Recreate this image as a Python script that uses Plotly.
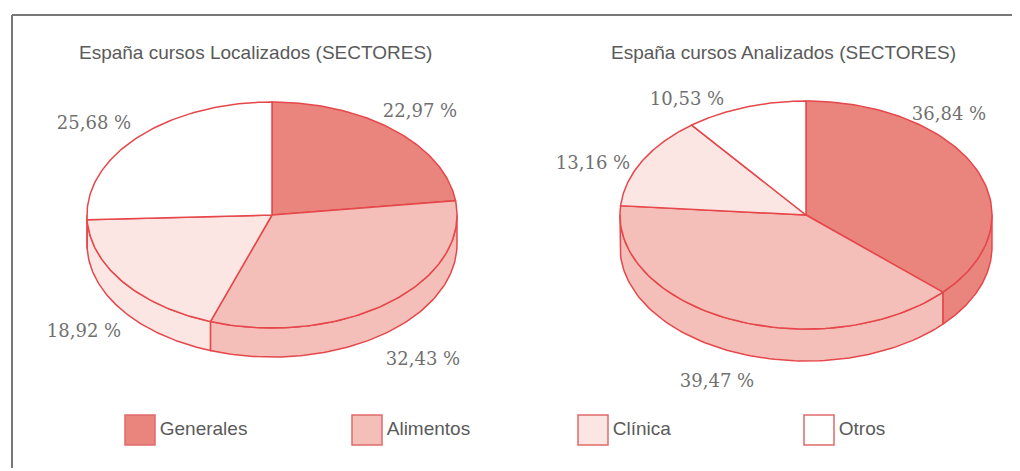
import numpy as np
import plotly.graph_objects as go

# data
categories = ["Generales", "Alimentos", "Clínica", "Otros"]
localizados = [22.97, 32.43, 18.92, 25.68]
analizados = [36.84, 39.47, 13.16, 10.53]
titles = ["España cursos Localizados (SECTORES)", "España cursos Analizados (SECTORES)"]

# styles
COLORS = ["#EA857E", "#F5BFB9", "#FCE6E3", "#FFFFFF"]
EDGE = "#E5474B"
LABEL_FONT = dict(family="DejaVu Serif", size=18, color="#707070")
SANS_FONT = dict(family="Liberation Sans", size=19, color="#5a5a5a")

# page body has an 8px margin, so the figure is drawn 8px in
OFF = 8

# pie geometry (screen pixels, y pointing down)
PIES = [
    dict(cx=272, cy=215, rx=185, ry=113, depth=29, title_x=255,
         label_pos=[(420, 112), (423, 360), (84, 332), (94, 124)]),
    dict(cx=806, cy=215, rx=186, ry=114, depth=32, title_x=783,
         label_pos=[(949, 115), (717, 382), (593, 164), (687, 100)]),
]


def arc(p, t0, t1, n=90, dy=0):
    """Points on the pie ellipse, angles in degrees clockwise from 12 o'clock."""
    th = np.radians(np.linspace(t0, t1, n))
    return p["cx"] + p["rx"] * np.sin(th), p["cy"] - p["ry"] * np.cos(th) + dy


def pie3d_traces(p, values):
    total = sum(values)
    bounds = np.concatenate([[0], np.cumsum(values) / total * 360])
    sides, tops = [], []
    for i, v in enumerate(values):
        t0, t1 = bounds[i], bounds[i + 1]
        # visible part of the wall: lower half of the ellipse
        a, b = max(t0, 90), min(t1, 270)
        if a < b:
            x1, y1 = arc(p, a, b)
            x2, y2 = arc(p, b, a, dy=p["depth"])
            sides.append(go.Scatter(
                x=np.concatenate([x1, x2, x1[:1]]), y=np.concatenate([y1, y2, y1[:1]]),
                fill="toself", mode="lines", fillcolor=COLORS[i],
                line=dict(color=EDGE, width=1.5), hoverinfo="skip", showlegend=False,
            ))
        x, y = arc(p, t0, t1)
        tops.append(go.Scatter(
            x=np.concatenate([[p["cx"]], x, [p["cx"]]]), y=np.concatenate([[p["cy"]], y, [p["cy"]]]),
            fill="toself", mode="lines", fillcolor=COLORS[i],
            line=dict(color=EDGE, width=1.5), name=categories[i],
            text=f"{categories[i]}: {v:.2f} %", hoverinfo="text", showlegend=False,
        ))
    lx, ly = zip(*p["label_pos"])
    labels = go.Scatter(
        x=lx, y=ly, mode="text", text=[f"{v:.2f}".replace(".", ",") + " %" for v in values],
        textfont=LABEL_FONT, hoverinfo="skip", showlegend=False,
    )
    return sides + tops + [labels]


fig = go.Figure()
for p, vals in zip(PIES, [localizados, analizados]):
    fig.add_traces(pie3d_traces(p, vals))

# legend drawn as square markers with text
fig.add_trace(go.Scatter(
    x=[140, 367, 593, 819], y=[430] * 4, mode="markers+text",
    marker=dict(symbol="square", size=30, color=COLORS, line=dict(color="#E06A6A", width=1.5)),
    text=categories, textposition="middle right", textfont=SANS_FONT,
    hoverinfo="skip", showlegend=False,
))

for p, t in zip(PIES, titles):
    fig.add_annotation(x=p["title_x"], y=52, text=t, showarrow=False, font=SANS_FONT)

# frame
fig.add_shape(type="line", x0=12, y0=15, x1=1020, y1=15, line=dict(color="#777777", width=2))
fig.add_shape(type="line", x0=12, y0=15, x1=12, y1=468, line=dict(color="#777777", width=2))

fig.update_layout(
    width=1020 - OFF, height=471 - OFF,
    margin=dict(l=0, r=0, t=0, b=0),
    paper_bgcolor="white", plot_bgcolor="white",
    xaxis=dict(range=[OFF, 1020], visible=False, fixedrange=True),
    yaxis=dict(range=[471, OFF], visible=False, fixedrange=True),
)

fig.write_html("out.html")
